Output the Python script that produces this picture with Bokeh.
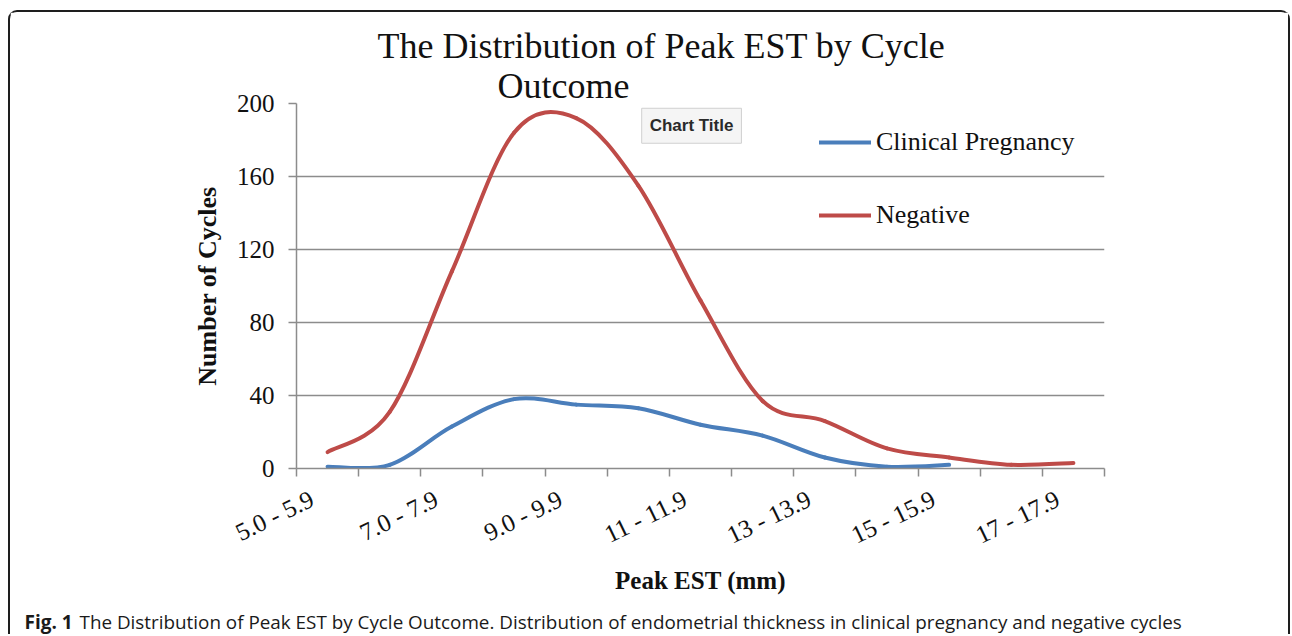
from bokeh.plotting import figure
from bokeh.layouts import column
from bokeh.models import Range1d, FixedTicker, Label, Legend, LegendItem, ColumnDataSource, Title
from bokeh.embed import file_html
from bokeh.resources import INLINE

# ---------------- data ----------------
categories = ["5.0 - 5.9", "6.0 - 6.9", "7.0 - 7.9", "8.0 - 8.9", "9.0 - 9.9",
              "10 - 10.9", "11 - 11.9", "12 - 12.9", "13 - 13.9", "14 - 14.9",
              "15 - 15.9", "16 - 16.9", "17 - 17.9"]
clinical_pregnancy = [1, 2, 23, 38, 35, 33, 24, 18, 6, 1, 2]
negative = [9, 31, 108, 184, 192, 155, 92, 37, 26, 11, 6, 2, 3]
y_ticks = [0, 40, 80, 120, 160, 200]
series_names = ["Clinical Pregnancy", "Negative"]
title_lines = ["The Distribution of Peak EST by Cycle", "Outcome"]
caption_bold = "Fig. 1"
caption_text = ("The Distribution of Peak EST by Cycle Outcome. Distribution of endometrial "
                "thickness in clinical pregnancy and negative cycles")

BLUE = "#4a7ebb"
RED = "#be4b48"
GRID = "#8c8c8c"
INK = "#111111"
SERIF = "Liberation Serif"
LABEL_SHIFT = -0.25   # rotated category labels sit a little left of the category centre

# ---------------- smoothed (Catmull-Rom -> Bezier) segments ----------------
def bezier_segments(vals):
    n = len(vals)
    xs = [i + 0.5 for i in range(n)]

    def P(i):
        i = max(0, min(n - 1, i))
        return xs[i], vals[i]

    d = dict(x0=[], y0=[], x1=[], y1=[], cx0=[], cy0=[], cx1=[], cy1=[])
    for i in range(n - 1):
        xa, ya = P(i - 1)
        xs0, ys0 = P(i)
        xs1, ys1 = P(i + 1)
        xb, yb = P(i + 2)
        d["x0"].append(xs0); d["y0"].append(ys0)
        d["x1"].append(xs1); d["y1"].append(ys1)
        d["cx0"].append(xs0 + (xs1 - xa) / 6); d["cy0"].append(ys0 + (ys1 - ya) / 6)
        d["cx1"].append(xs1 - (xb - xs0) / 6); d["cy1"].append(ys1 - (yb - ys0) / 6)
    return d

# ---------------- main figure ----------------
W, H = 1278, 588
p = figure(width=W, height=H, x_range=Range1d(0, len(categories)), y_range=Range1d(0, 200),
           output_backend="svg", toolbar_location=None,
           min_border_left=286, min_border_right=184, min_border_top=91, min_border_bottom=132)
p.frame_align = False
p.title.visible = False
p.outline_line_color = None
p.background_fill_color = "white"
p.border_fill_color = "white"

# title lines (first added sits next to the plot)
p.add_layout(Title(text=title_lines[1], align="left", offset=201, standoff=-5,
                   text_font=SERIF, text_font_size="36px", text_font_style="normal",
                   text_color=INK), "above")
p.add_layout(Title(text=title_lines[0], align="left", offset=81, standoff=1,
                   text_font=SERIF, text_font_size="36px", text_font_style="normal",
                   text_color=INK), "above")

# y axis
p.yaxis.ticker = FixedTicker(ticks=y_ticks)
p.yaxis.axis_line_color = GRID
p.yaxis.axis_line_width = 1.5
p.yaxis.major_tick_line_color = GRID
p.yaxis.major_tick_line_width = 1.5
p.yaxis.major_tick_out = 8
p.yaxis.major_tick_in = 0
p.yaxis.minor_tick_line_color = None
p.yaxis.major_label_text_font = SERIF
p.yaxis.major_label_text_font_size = "25px"
p.yaxis.major_label_text_color = INK
p.yaxis.major_label_standoff = 14
p.yaxis.axis_label = "Number of Cycles"
p.yaxis.axis_label_text_font = SERIF
p.yaxis.axis_label_text_font_style = "bold"
p.yaxis.axis_label_text_font_size = "26px"
p.yaxis.axis_label_text_color = INK
p.yaxis.axis_label_standoff = 12

p.ygrid.grid_line_color = GRID
p.ygrid.grid_line_width = 1.5
p.xgrid.grid_line_color = None

# x axis: labels on every other category, tick marks at category boundaries
label_idx = list(range(0, len(categories), 2))
label_pos = [i + 0.5 + LABEL_SHIFT for i in label_idx]
p.xaxis.ticker = FixedTicker(ticks=label_pos, minor_ticks=list(range(len(categories) + 1)))
p.xaxis.major_label_overrides = {pos: categories[i] for pos, i in zip(label_pos, label_idx)}
p.xaxis.axis_line_color = GRID
p.xaxis.axis_line_width = 1.5
p.xaxis.major_tick_line_color = None
p.xaxis.major_tick_out = 8
p.xaxis.major_tick_in = 0
p.xaxis.minor_tick_line_color = GRID
p.xaxis.minor_tick_line_width = 1.5
p.xaxis.minor_tick_out = 8
p.xaxis.minor_tick_in = 0
p.xaxis.major_label_orientation = 0.45
p.xaxis.major_label_text_font = SERIF
p.xaxis.major_label_text_font_size = "25px"
p.xaxis.major_label_text_color = INK
p.xaxis.major_label_standoff = 21
p.xaxis.axis_label = "Peak EST (mm)"
p.xaxis.axis_label_text_font = SERIF
p.xaxis.axis_label_text_font_style = "bold"
p.xaxis.axis_label_text_font_size = "25px"
p.xaxis.axis_label_text_color = INK
p.xaxis.axis_label_standoff = 3

# series
src_cp = ColumnDataSource(bezier_segments(clinical_pregnancy))
src_neg = ColumnDataSource(bezier_segments(negative))
r_cp = p.bezier(x0="x0", y0="y0", x1="x1", y1="y1", cx0="cx0", cy0="cy0", cx1="cx1", cy1="cy1",
                source=src_cp, line_color=BLUE, line_width=4, line_cap="round")
r_neg = p.bezier(x0="x0", y0="y0", x1="x1", y1="y1", cx0="cx0", cy0="cy0", cx1="cx1", cy1="cy1",
                 source=src_neg, line_color=RED, line_width=4, line_cap="round")

legend = Legend(items=[LegendItem(label=series_names[0], renderers=[r_cp]),
                       LegendItem(label=series_names[1], renderers=[r_neg])],
                location=(523, 235), orientation="vertical",
                glyph_width=52, glyph_height=36, label_height=36, label_standoff=5,
                spacing=37, padding=0, margin=0,
                label_text_font=SERIF, label_text_font_size="26px", label_text_color=INK,
                border_line_color=None, background_fill_alpha=0)
p.add_layout(legend)

# "Chart Title" hover box
p.add_layout(Label(x=6.356, y=187.8, text="Chart Title",
                   text_align="center", text_baseline="middle",
                   text_font="Liberation Sans", text_font_style="bold", text_font_size="17px",
                   text_color="#2a2a2a", padding=8,
                   background_fill_color="#f5f5f5", border_line_color="#d0d0d0"))

# ---------------- caption strip ----------------
CH = 34
cap = figure(width=W, height=CH, x_range=Range1d(0, W), y_range=Range1d(0, CH),
             output_backend="svg", toolbar_location=None, min_border=0,
             x_axis_location=None, y_axis_location=None)
cap.frame_align = False
cap.title.visible = False
cap.outline_line_color = None
cap.xgrid.visible = False
cap.ygrid.visible = False
cap.add_layout(Label(x=14, y=13, text=caption_bold, text_align="left", text_baseline="alphabetic",
                     text_font="Open Sans", text_font_style="bold", text_font_size="19px",
                     text_color="#1a1a1a"))
cap.add_layout(Label(x=69, y=13, text=caption_text, text_align="left", text_baseline="alphabetic",
                     text_font="Open Sans", text_font_size="18.85px", text_color="#1a1a1a"))

layout = column(p, cap, spacing=0,
                styles={"margin-left": "8px", "margin-top": "10px",
                        "border-top": "2px solid #1e1e1e", "border-left": "2px solid #1e1e1e",
                        "border-right": "2px solid #1e1e1e",
                        "border-top-left-radius": "9px", "border-top-right-radius": "9px"})

open("out.html", "w").write(file_html(layout, INLINE))
